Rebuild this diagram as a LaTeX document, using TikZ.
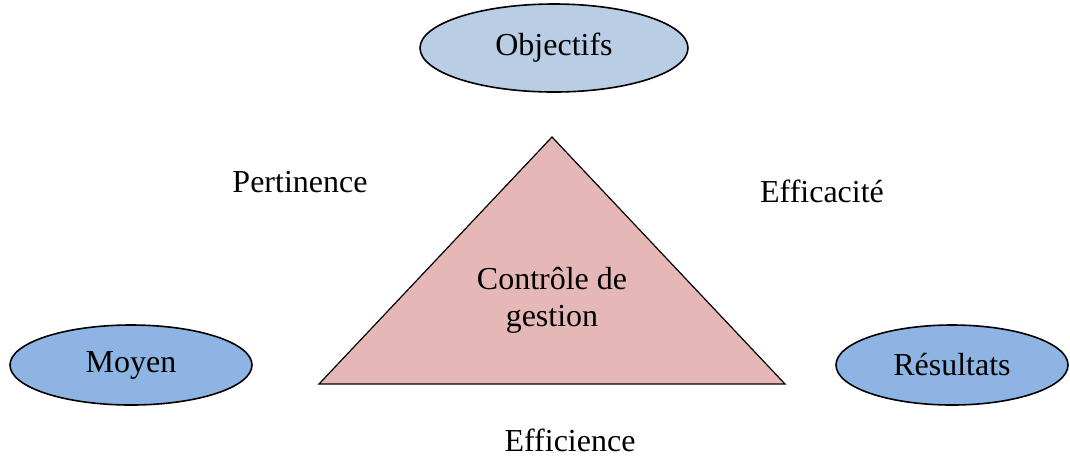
\documentclass[tikz,border=0pt]{standalone}
\usepackage{fontspec}
\setmainfont{Liberation Serif}
\definecolor{ObjBlue}{RGB}{185, 205, 229}
\definecolor{PoleBlue}{RGB}{141, 180, 226}
\definecolor{CtrlPink}{RGB}{229, 184, 183}
\usetikzlibrary{shapes.geometric, positioning}
\tikzset{
  pole/.style={ellipse, draw=black, line width=0.8pt, fill=#1,
               inner sep=0pt, font=\fontsize{16}{18.5}\selectfont},
  critlabel/.style={inner sep=0pt, font=\fontsize{16}{18.5}\selectfont},
}
\begin{document}
\begin{tikzpicture}[x=0.5pt, y=-0.5pt]
  \useasboundingbox (0,0) rectangle (1070,457);

  % the three poles
  \node[pole=ObjBlue, minimum width=134pt, minimum height=44pt] (obj) at (554,48) {\raisebox{-1.5pt}{Objectifs}};
  \node[pole=PoleBlue, minimum width=121pt, minimum height=40pt] (moy) at (131,365) {\raisebox{-1.5pt}{Moyen}};
  \node[pole=PoleBlue, minimum width=116pt, minimum height=40pt] (res) at (952,365) {\raisebox{-1pt}{Résultats}};

  % triangle
  \coordinate (top) at (552,137);
  \coordinate (bl) at (319,384);
  \coordinate (br) at (785,384);
  \draw[fill=CtrlPink, line width=0.6pt] (top) -- (br) -- (bl) -- cycle;
  \node[critlabel, align=center] (cg) at (552,300) {Contrôle de\\gestion};

  % criteria
  \node[critlabel] (pert) at (300,182) {Pertinence};
  \node[critlabel] (effa) at (822,191) {Efficacité};
  \node[critlabel] (effi) at (570,440) {Efficience};
\end{tikzpicture}
\end{document}
